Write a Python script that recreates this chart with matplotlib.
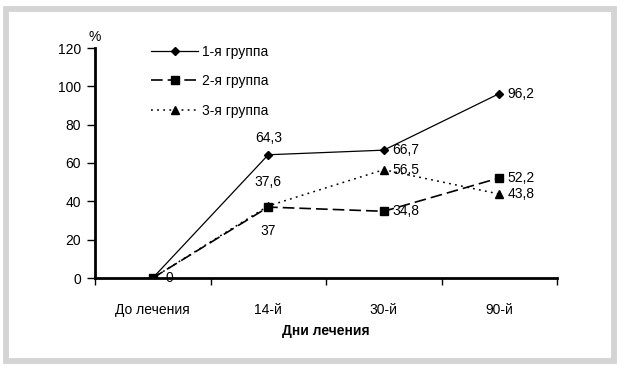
import matplotlib.pyplot as plt
from matplotlib.patches import Rectangle

plt.rcParams['font.family'] = ['Liberation Sans', 'DejaVu Sans']
plt.rcParams['font.size'] = 10

categories = ['До лечения', '14-й', '30-й', '90-й']
group1 = [0, 64.3, 66.7, 96.2]
group2 = [0, 37, 34.8, 52.2]
group3 = [0, 37.6, 56.5, 43.8]
labels = ['1-я группа', '2-я группа', '3-я группа']

fig = plt.figure(figsize=(6.24, 3.69), dpi=100)
W, H = 624, 369

# серая рамка вокруг рисунка
fig.patches.append(Rectangle((6 / W, 1 - 360.5 / H), 607.5 / W, 352 / H,
                             transform=fig.transFigure, fill=False,
                             edgecolor='#d4d4d4', linewidth=4.2))

ax = fig.add_axes([95 / W, 1 - 278 / H, 462 / W, 230 / H])
x = range(len(categories))

ax.plot(x, group1, color='black', lw=0.9, marker='D', ms=3.8, label=labels[0])
ax.plot(x, group2, color='black', lw=1.2, ls=(0, (7, 3)), marker='s', ms=5.5,
        label=labels[1], zorder=4)
ax.plot(x, group3, color='black', lw=1.1, ls=(0, (1.2, 2.8)), marker='^', ms=5.5, label=labels[2])

ax.set_xlim(-0.5, 3.5)
ax.set_ylim(0, 120)
ax.set_yticks(range(0, 121, 20))
ax.set_xticks([i + 0.5 for i in range(-1, 4)])
ax.set_xticklabels([])
ax.set_xticks(list(x), minor=True)
ax.set_xticklabels(categories, minor=True)
ax.tick_params(axis='x', which='minor', length=0, pad=18)
ax.tick_params(axis='x', which='major', direction='out', length=5, width=1)
ax.tick_params(axis='y', direction='out', length=6, width=1, pad=4)
for s in ['top', 'right']:
    ax.spines[s].set_visible(False)
ax.spines['left'].set_linewidth(2)
ax.spines['bottom'].set_linewidth(2)
ax.set_xlabel('Дни лечения', fontweight='bold', labelpad=5)
ax.text(-0.5, 122, '%', ha='center', va='bottom')

# подписи значений
ax.annotate('0', (0, 0), xytext=(9, 0), textcoords='offset points', va='center')
ax.annotate('64,3', (1, group1[1]), xytext=(0, 12), textcoords='offset points', ha='center', va='center')
ax.annotate('37,6', (1, group3[1]), xytext=(0, 17), textcoords='offset points', ha='center', va='center')
ax.annotate('37', (1, group2[1]), xytext=(0, -17), textcoords='offset points', ha='center', va='center')
for i in [2, 3]:
    for ser in [group1, group2, group3]:
        ax.annotate(str(ser[i]).replace('.', ','), (i, ser[i]), xytext=(6, 0),
                    textcoords='offset points', va='center')

ax.legend(loc='upper left', bbox_to_anchor=(151 / W, 1 - 45 / H),
          bbox_transform=fig.transFigure, frameon=False, handlelength=3.4,
          handletextpad=0.3, labelspacing=1.1, borderpad=0, borderaxespad=0)

fig.savefig('out.png', dpi=100, facecolor='white')
